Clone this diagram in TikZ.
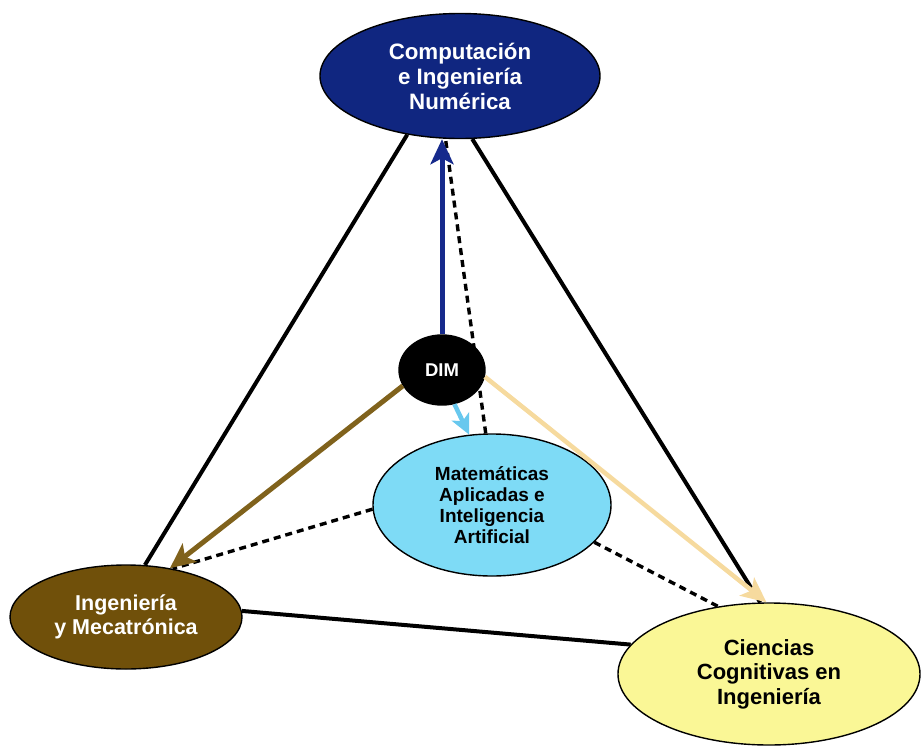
\documentclass[tikz,border=0pt]{standalone}
\usepackage{fontspec}
\setmainfont{Liberation Sans}
\usetikzlibrary{shapes.geometric,arrows.meta}

\definecolor{navy}{RGB}{16,38,128}
\definecolor{navyarrow}{RGB}{22,42,140}
\definecolor{skyfill}{RGB}{126,219,246}
\definecolor{skyarrow}{RGB}{104,200,238}
\definecolor{mudfill}{RGB}{112,80,10}
\definecolor{mudarrow}{RGB}{128,98,28}
\definecolor{sandarrow}{RGB}{246,218,158}
\definecolor{lemonfill}{RGB}{250,247,150}

\begin{document}
\begin{tikzpicture}[x=1pt,y=-1pt,
  area/.style={ellipse, draw=black, line width=1.4pt, inner sep=0pt, align=center},
  link/.style={line width=4pt, black},
  weak/.style={line width=3.4pt, black, dash pattern=on 7pt off 5pt},
  flow/.style={line width=5pt, -{Stealth[length=25pt,width=23pt,inset=6pt]}}
]
\useasboundingbox (0,0) rectangle (922,750);

% the five groups
\node[area, fill=navy, text=white, minimum width=280pt, minimum height=125pt,
      font=\bfseries\fontsize{22.3}{25}\selectfont] (comp) at (460,76)
      {Computación\\e Ingeniería\\Numérica};
\node[area, fill=black, text=white, minimum width=86pt, minimum height=70pt,
      font=\bfseries\fontsize{18.5}{20}\selectfont] (dim) at (442,370) {DIM};
\node[area, fill=skyfill, text=black, minimum width=238pt, minimum height=142pt,
      font=\bfseries\fontsize{19}{21}\selectfont] (mat) at (492,505)
      {Matemáticas\\Aplicadas e\\Inteligencia\\Artificial};
\node[area, fill=mudfill, text=white, minimum width=232pt, minimum height=104pt,
      font=\bfseries\fontsize{21.5}{24}\selectfont] (meca) at (126,617)
      {Ingeniería\\y Mecatrónica};
\node[area, fill=lemonfill, text=black, minimum width=302pt, minimum height=142pt,
      font=\bfseries\fontsize{22}{24.5}\selectfont] (cog) at (769,674)
      {Ciencias\\Cognitivas en\\Ingeniería};

% outer triangle
\draw[link] (comp.228) -- (meca.70);
\draw[link] (comp.281) -- (cog.97);
\draw[link] (meca.3) -- (cog.168);

% dashed links from the applied-maths group
\draw[weak] (mat.95) -- (comp.257);
\draw[weak] (mat.182) -- (meca.46);
\draw[weak] (mat.340) -- (cog.127);

% arrows leaving DIM
\draw[flow, navyarrow] (dim.north) -- (dim.north |- comp.south);
\draw[flow, mudarrow] (dim.202) -- (meca.48);
\draw[flow, sandarrow, line width=4.5pt] (dim.351) -- (cog.92);
\draw[flow, skyarrow, line width=4.5pt, -{Stealth[length=20pt,width=19pt,inset=5pt]}] (dim.290) -- (mat.108);
\end{tikzpicture}
\end{document}
